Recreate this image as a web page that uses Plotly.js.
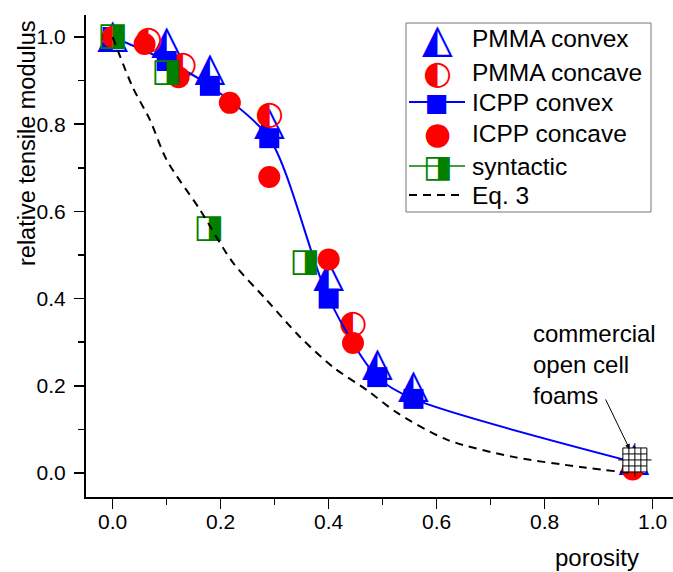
<!DOCTYPE html>
<html><head><meta charset="utf-8">
<script src="https://cdn.plot.ly/plotly-3.0.1.min.js"></script>
<style>html,body{margin:0;padding:0;background:#fff}</style>
</head><body>
<div id="chart" style="width:673px;height:572px"></div>
<script>
// ---- data ----
const pmmaConvexX = [0, 0.10, 0.18, 0.29, 0.40, 0.49, 0.557, 0.965];
const pmmaConvexY = [1.0, 0.986, 0.925, 0.80, 0.452, 0.248, 0.197, 0.03];

const pmmaConcaveX = [0.066, 0.13, 0.29, 0.445];
const pmmaConcaveY = [0.992, 0.933, 0.819, 0.339];

const icppConvexX = [0, 0.10, 0.18, 0.29, 0.40, 0.49, 0.557, 0.965];
const icppConvexY = [1.0, 0.945, 0.888, 0.768, 0.40, 0.22, 0.17, 0.025];

const icppConcaveX = [0, 0.059, 0.122, 0.217, 0.29, 0.40, 0.445, 0.963];
const icppConcaveY = [1.0, 0.984, 0.908, 0.849, 0.679, 0.49, 0.298, 0.008];

const syntacticX = [0, 0.10, 0.178, 0.356];
const syntacticY = [1.0, 0.918, 0.56, 0.481];

const eq3X = [0, 0.037, 0.069, 0.10, 0.161, 0.223, 0.285, 0.347, 0.408, 0.471, 0.527, 0.62, 0.742, 0.866, 0.96];
const eq3Y = [1.0, 0.885, 0.81, 0.718, 0.605, 0.482, 0.397, 0.312, 0.243, 0.19, 0.138, 0.076, 0.037, 0.014, 0.0];

const commercialX = [0.967];
const commercialY = [0.03];

const xTickVals = [0, 0.2, 0.4, 0.6, 0.8, 1.0];
const yTickVals = [0, 0.2, 0.4, 0.6, 0.8, 1.0];

const legendLabels = ['PMMA convex', 'PMMA concave', 'ICPP convex', 'ICPP concave', 'syntactic', 'Eq. 3'];

// ---- layout geometry ----
const W = 673, H = 572, ML = 86, MR = 0, MT = 15, MB = 75;
const pw = W - ML - MR, ph = H - MT - MB;
const px = v => (v - ML) / pw;
const py = v => (H - MB - v) / ph;

const BLUE = '#0000FF', RED = '#FF0000', GREEN = '#008000';
const FONT = 'Liberation Sans, Arial, sans-serif';
const GLYPH = 'DejaVu Sans';

function glyphTrace(xs, ys, ch, color, size) {
  return {x: xs, y: ys, mode: 'text', text: xs.map(() => ch), textposition: 'middle center',
    textfont: {family: GLYPH, size: size, color: color}, hoverinfo: 'skip', showlegend: false};
}

const traces = [
  glyphTrace(pmmaConvexX, pmmaConvexY, '\u25ED', BLUE, 40),
  glyphTrace(pmmaConcaveX, pmmaConcaveY, '\u25D0', RED, 33),
  {x: icppConvexX, y: icppConvexY, mode: 'lines+markers', line: {color: BLUE, width: 2, shape: 'spline', smoothing: 0.8},
   marker: {symbol: 'square', size: 20, color: BLUE, line: {width: 0}}, showlegend: false, hoverinfo: 'skip'},
  {x: icppConcaveX, y: icppConcaveY, mode: 'markers',
   marker: {symbol: 'circle', size: 22, color: RED, line: {width: 0}}, showlegend: false, hoverinfo: 'skip'},
  glyphTrace(syntacticX, syntacticY, '\u25E8', GREEN, 32),
  {x: eq3X, y: eq3Y, mode: 'lines', line: {color: 'black', width: 2, dash: '8px,6px', shape: 'spline', smoothing: 0.8},
   showlegend: false, hoverinfo: 'skip'},
  {x: commercialX, y: commercialY, mode: 'markers',
   marker: {symbol: 'square', size: 24, color: 'white', line: {color: 'black', width: 1}}, showlegend: false, hoverinfo: 'skip'},
  {x: commercialX, y: commercialY, mode: 'markers',
   marker: {symbol: 'hash-open', size: 24, color: 'black', line: {color: 'black', width: 1}}, showlegend: false, hoverinfo: 'skip'},
  {x: commercialX, y: commercialY, mode: 'markers',
   marker: {symbol: 'cross-thin-open', size: 24, color: 'black', line: {color: 'black', width: 1}}, showlegend: false, hoverinfo: 'skip'}
];

// manual legend
const legRows = [38, 72, 102, 133, 166, 195];
const legSymX = 437, legTextX = 470, legLineX0 = 409, legLineX1 = 465;
const shapes = [
  {type: 'rect', xref: 'paper', yref: 'paper', x0: px(406), x1: px(651), y0: py(23), y1: py(212),
   line: {color: '#777', width: 1}, fillcolor: 'rgba(0,0,0,0)', layer: 'above'},
  {type: 'line', xref: 'paper', yref: 'paper', x0: px(legLineX0), x1: px(legLineX1), y0: py(legRows[2]), y1: py(legRows[2]),
   line: {color: BLUE, width: 2}},
  {type: 'line', xref: 'paper', yref: 'paper', x0: px(legLineX0), x1: px(legLineX1), y0: py(legRows[4]), y1: py(legRows[4]),
   line: {color: GREEN, width: 1.5}},
  {type: 'line', xref: 'paper', yref: 'paper', x0: px(legLineX0), x1: px(legLineX1), y0: py(legRows[5]), y1: py(legRows[5]),
   line: {color: 'black', width: 2, dash: '8px,6px'}}
];
const legSyms = [
  ['\u25ED', BLUE, 40], ['\u25D0', RED, 33], ['\u25A0', BLUE, 25], ['\u25CF', RED, 31], ['\u25E8', GREEN, 31], null
];
const annotations = [];
legendLabels.forEach((lab, i) => {
  annotations.push({xref: 'paper', yref: 'paper', x: px(legTextX), y: py(legRows[i]), xanchor: 'left', yanchor: 'middle',
    text: lab, showarrow: false, font: {family: FONT, size: 24.5, color: 'black'}});
  const s = legSyms[i];
  if (s) annotations.push({xref: 'paper', yref: 'paper', x: px(legSymX), y: py(legRows[i]), xanchor: 'center', yanchor: 'middle',
    text: s[0], showarrow: false, font: {family: GLYPH, size: s[2], color: s[1]}});
});
annotations.push(
  {xref: 'paper', yref: 'paper', x: px(27), y: py(143), xanchor: 'center', yanchor: 'middle',
   text: 'relative tensile modulus', textangle: -90,
   showarrow: false, font: {family: FONT, size: 23.5, color: 'black'}},
  {xref: 'paper', yref: 'paper', x: px(597), y: py(557), xanchor: 'center', yanchor: 'middle', text: 'porosity',
   showarrow: false, font: {family: FONT, size: 24, color: 'black'}},
  {xref: 'paper', yref: 'paper', x: px(531), y: py(364), xanchor: 'left', yanchor: 'middle', align: 'left',
   text: 'commercial<br>open cell<br>foams', showarrow: false, font: {family: FONT, size: 24, color: 'black'}},
  {xref: 'x', yref: 'y', x: commercialX[0], y: commercialY[0], text: '', showarrow: true, axref: 'pixel', ayref: 'pixel',
   ax: -30, ay: -62, arrowhead: 2, arrowsize: 1, arrowwidth: 1, arrowcolor: 'black', standoff: 12}
);

const axisCommon = {
  showline: true, linecolor: 'black', linewidth: 2, mirror: false,
  ticks: 'outside', ticklen: 10, tickwidth: 1.5, tickcolor: 'black',
  showgrid: false, zeroline: false, tickformat: '.1f',
  tickfont: {family: FONT, size: 21, color: 'black'},
  minor: {dtick: 0.1, ticks: 'outside', ticklen: 6, tickwidth: 1.5, tickcolor: 'black', showgrid: false}
};

const layout = {
  width: W, height: H, margin: {l: ML, r: MR, t: MT, b: MB},
  paper_bgcolor: 'white', plot_bgcolor: 'white', showlegend: false,
  xaxis: Object.assign({}, axisCommon, {range: [-0.0494, 1.0376], tickvals: xTickVals, ticklabelstandoff: -5}),
  yaxis: Object.assign({}, axisCommon, {range: [-0.055, 1.0505], tickvals: yTickVals, ticklabelstandoff: 4}),
  shapes: shapes, annotations: annotations
};

Plotly.newPlot('chart', traces, layout, {displayModeBar: false, staticPlot: true});
</script>
</body></html>
